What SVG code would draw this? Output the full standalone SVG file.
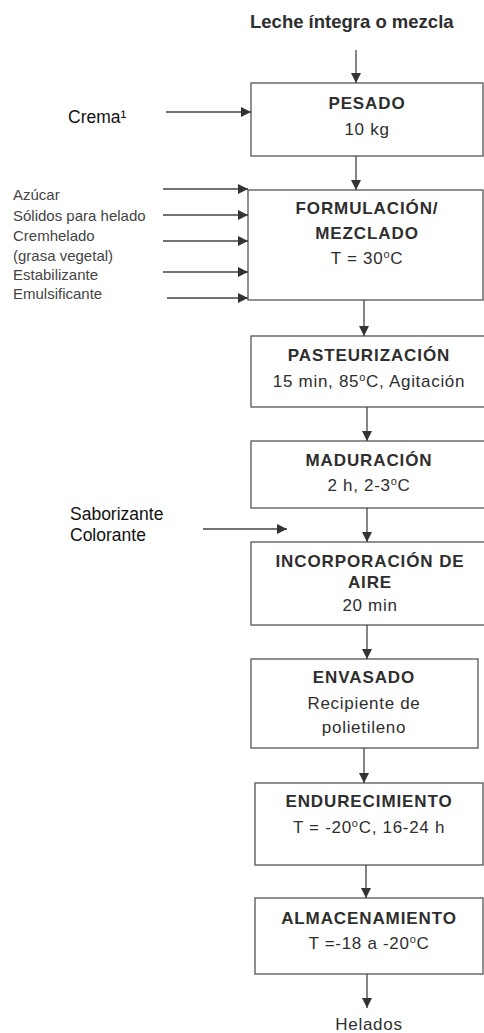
<svg xmlns="http://www.w3.org/2000/svg" width="484" height="1033" viewBox="0 0 484 1033">
<defs>
<marker id="ah" markerUnits="userSpaceOnUse" markerWidth="11" markerHeight="10" refX="10" refY="5" orient="auto">
<path d="M0,0 L10,5 L0,10 z" fill="#333"/>
</marker>
<style>
.box{fill:#fff;stroke:#555;stroke-width:1.3}
.t{font-family:"Liberation Sans",Arial,sans-serif;fill:#2e2e2e;text-anchor:middle}
.b{font-size:17px;font-weight:bold;letter-spacing:0.9px}
.r{font-size:17px;letter-spacing:0.7px}
.sup{font-size:11px}
.lbl{font-family:"Liberation Sans",Arial,sans-serif;font-size:15px;fill:#444}
.in{font-family:"Liberation Sans",Arial,sans-serif;font-size:17.5px;fill:#111}
.title{font-family:"Liberation Sans",Arial,sans-serif;font-size:18.5px;font-weight:bold;fill:#2e2e2e}
.c{stroke:#444;stroke-width:1.3;fill:none;marker-end:url(#ah)}
</style>
</defs>
<rect width="484" height="1033" fill="#fff"/>
<g id="inputs">
<text class="title" x="250" y="28">Leche íntegra o mezcla</text>
<text class="in" x="68" y="123">Crema¹</text>
<text class="lbl" x="13" y="200">Azúcar</text>
<text class="lbl" x="13" y="221">Sólidos para helado</text>
<text class="lbl" x="13" y="241">Cremhelado</text>
<text class="lbl" x="13" y="261">(grasa vegetal)</text>
<text class="lbl" x="13" y="280">Estabilizante</text>
<text class="lbl" x="13" y="299">Emulsificante</text>
<text class="in" x="70" y="520">Saborizante</text>
<text class="in" x="70" y="541">Colorante</text>
<text class="t r" x="369" y="1030">Helados</text>
</g>
<g id="n1">
<rect class="box" x="251" y="83" width="232" height="73"/>
<text class="t b" x="367" y="109">PESADO</text>
<text class="t r" x="367" y="135">10 kg</text>
</g>
<g id="n2">
<rect class="box" x="248" y="190" width="235" height="110"/>
<text class="t b" x="367" y="214">FORMULACIÓN/</text>
<text class="t b" x="367" y="239">MEZCLADO</text>
<text class="t r" x="367" y="264">T = 30<tspan class="sup" dy="-6">o</tspan><tspan dy="6">C</tspan></text>
</g>
<g id="n3">
<rect class="box" x="251" y="336" width="235" height="71"/>
<text class="t b" x="369" y="361">PASTEURIZACIÓN</text>
<text class="t r" x="369" y="387">15 min, 85<tspan class="sup" dy="-6">o</tspan><tspan dy="6">C, Agitación</tspan></text>
</g>
<g id="n4">
<rect class="box" x="251" y="441" width="235" height="67"/>
<text class="t b" x="369" y="466">MADURACIÓN</text>
<text class="t r" x="369" y="491">2 h, 2-3<tspan class="sup" dy="-6">o</tspan><tspan dy="6">C</tspan></text>
</g>
<g id="n5">
<rect class="box" x="251" y="542" width="235" height="83"/>
<text class="t b" x="370" y="567">INCORPORACIÓN DE</text>
<text class="t b" x="370" y="588">AIRE</text>
<text class="t r" x="370" y="611">20 min</text>
</g>
<g id="n6">
<rect class="box" x="251" y="659" width="227" height="89"/>
<text class="t b" x="364" y="683">ENVASADO</text>
<text class="t r" x="364" y="709">Recipiente de</text>
<text class="t r" x="364" y="733">polietileno</text>
</g>
<g id="n7">
<rect class="box" x="255" y="783" width="228" height="82"/>
<text class="t b" x="369" y="807">ENDURECIMIENTO</text>
<text class="t r" x="369" y="833">T = -20<tspan class="sup" dy="-6">o</tspan><tspan dy="6">C, 16-24 h</tspan></text>
</g>
<g id="n8">
<rect class="box" x="255" y="898" width="228" height="76"/>
<text class="t b" x="369" y="924">ALMACENAMIENTO</text>
<text class="t r" x="369" y="949">T =-18 a -20<tspan class="sup" dy="-6">o</tspan><tspan dy="6">C</tspan></text>
</g>
<g id="connectors">
<line class="c" x1="356" y1="50" x2="356" y2="83"/>
<line class="c" x1="166" y1="112" x2="251" y2="112"/>
<line class="c" x1="356" y1="156" x2="356" y2="190"/>
<line class="c" x1="163" y1="189" x2="248" y2="189"/>
<line class="c" x1="163" y1="215" x2="248" y2="215"/>
<line class="c" x1="163" y1="241" x2="248" y2="241"/>
<line class="c" x1="163" y1="272" x2="248" y2="272"/>
<line class="c" x1="167" y1="298" x2="248" y2="298"/>
<line class="c" x1="364" y1="300" x2="364" y2="336"/>
<line class="c" x1="367" y1="407" x2="367" y2="441"/>
<line class="c" x1="367" y1="508" x2="367" y2="542"/>
<line class="c" x1="203" y1="529" x2="287" y2="529"/>
<line class="c" x1="367" y1="625" x2="367" y2="659"/>
<line class="c" x1="364" y1="748" x2="364" y2="783"/>
<line class="c" x1="366" y1="865" x2="366" y2="898"/>
<line class="c" x1="367" y1="974" x2="367" y2="1008"/>
</g>
</svg>
